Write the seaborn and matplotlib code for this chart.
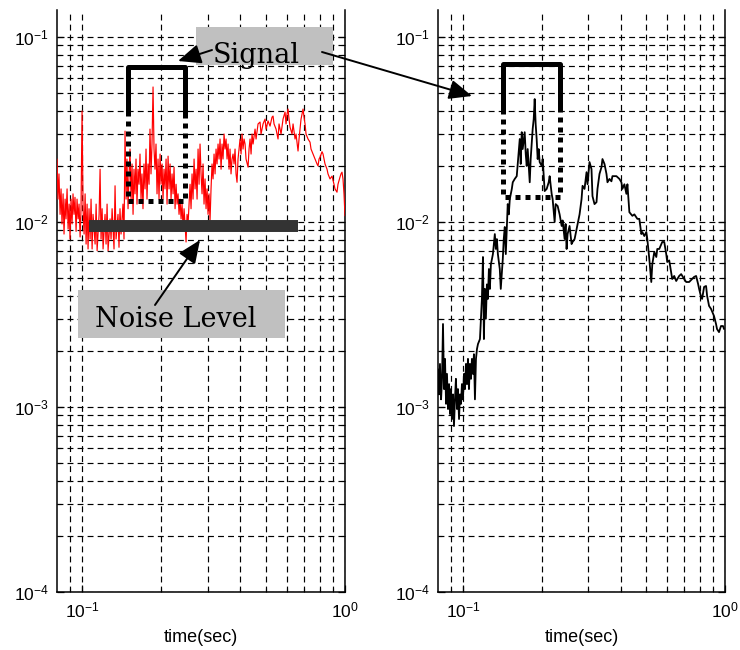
import matplotlib
matplotlib.use("Agg")
import matplotlib.pyplot as plt
import matplotlib.patches as mpatches
import seaborn as sns

# ---- recorded spectra (time in seconds, amplitude) ----
noisy_time = [
    0.0803, 0.0810, 0.0817, 0.0825, 0.0832, 0.0839, 0.0847, 0.0854, 0.0862, 0.0869,
    0.0877, 0.0885, 0.0893, 0.0900, 0.0908, 0.0916, 0.0924, 0.0932, 0.0940, 0.0949,
    0.0957, 0.0966, 0.0974, 0.0983, 0.0991, 0.1000, 0.1009, 0.1018, 0.1027, 0.1036,
    0.1045, 0.1054, 0.1063, 0.1073, 0.1082, 0.1092, 0.1101, 0.1121, 0.1131, 0.1141,
    0.1161, 0.1171, 0.1181, 0.1192, 0.1202, 0.1223, 0.1234, 0.1245, 0.1256, 0.1278,
    0.1289, 0.1301, 0.1323, 0.1335, 0.1347, 0.1370, 0.1382, 0.1394, 0.1407, 0.1431,
    0.1444, 0.1457, 0.1470, 0.1482, 0.1496, 0.1509, 0.1522, 0.1536, 0.1549, 0.1563,
    0.1576, 0.1590, 0.1604, 0.1618, 0.1632, 0.1647, 0.1661, 0.1676, 0.1690, 0.1705,
    0.1720, 0.1736, 0.1751, 0.1766, 0.1782, 0.1798, 0.1813, 0.1829, 0.1845, 0.1862,
    0.1878, 0.1894, 0.1911, 0.1928, 0.1945, 0.1962, 0.1980, 0.1997, 0.2015, 0.2032,
    0.2050, 0.2068, 0.2087, 0.2105, 0.2124, 0.2142, 0.2161, 0.2180, 0.2199, 0.2219,
    0.2238, 0.2258, 0.2278, 0.2298, 0.2318, 0.2338, 0.2359, 0.2380, 0.2401, 0.2422,
    0.2443, 0.2464, 0.2486, 0.2508, 0.2530, 0.2552, 0.2575, 0.2597, 0.2620, 0.2643,
    0.2667, 0.2690, 0.2714, 0.2738, 0.2762, 0.2786, 0.2810, 0.2835, 0.2860, 0.2885,
    0.2910, 0.2936, 0.2962, 0.2988, 0.3014, 0.3040, 0.3067, 0.3094, 0.3121, 0.3149,
    0.3177, 0.3205, 0.3233, 0.3261, 0.3290, 0.3319, 0.3348, 0.3378, 0.3407, 0.3437,
    0.3468, 0.3498, 0.3529, 0.3560, 0.3591, 0.3623, 0.3654, 0.3686, 0.3719, 0.3752,
    0.3785, 0.3818, 0.3851, 0.3885, 0.3919, 0.3954, 0.3989, 0.4024, 0.4059, 0.4095,
    0.4131, 0.4168, 0.4204, 0.4279, 0.4316, 0.4354, 0.4393, 0.4431, 0.4470, 0.4549,
    0.4589, 0.4670, 0.4752, 0.4794, 0.4879, 0.4965, 0.5009, 0.5097, 0.5187, 0.5278,
    0.5325, 0.5372, 0.5467, 0.5563, 0.5612, 0.5712, 0.5812, 0.5915, 0.5967, 0.6019,
    0.6072, 0.6126, 0.6180, 0.6289, 0.6345, 0.6457, 0.6513, 0.6628, 0.6686, 0.6745,
    0.6804, 0.6864, 0.6925, 0.6986, 0.7047, 0.7109, 0.7235, 0.7363, 0.7427, 0.7558,
    0.7692, 0.7827, 0.7896, 0.7966, 0.8036, 0.8178, 0.8250, 0.8395, 0.8543, 0.8618,
    0.8770, 0.8925, 0.9082, 0.9162, 0.9323, 0.9405, 0.9571, 0.9655, 0.9740, 0.9826,
    0.9913, 1.0000,
]
noisy_amp = [
    0.0219, 0.0133, 0.0182, 0.0110, 0.0151, 0.00976, 0.0142, 0.00861, 0.0133, 0.0104,
    0.0151, 0.00917, 0.0125, 0.00809, 0.0133, 0.00976, 0.0142, 0.0110, 0.0136, 0.0089,
    0.0133, 0.0104, 0.0125, 0.0083, 0.0118, 0.0398, 0.0118, 0.00861, 0.0142, 0.0076,
    0.0125, 0.00715, 0.0118, 0.00809, 0.0133, 0.00715, 0.0110, 0.0076, 0.0125, 0.0070,
    0.0110, 0.0193, 0.00809, 0.0118, 0.00715, 0.0110, 0.0076, 0.0125, 0.0070, 0.0104,
    0.00809, 0.0118, 0.00715, 0.0157, 0.00809, 0.0110, 0.0073, 0.0118, 0.00861, 0.0125,
    0.00809, 0.0310, 0.0133, 0.0219, 0.0118, 0.0182, 0.0248, 0.0133, 0.0206, 0.0110,
    0.0193, 0.0142, 0.0219, 0.0125, 0.0193, 0.0160, 0.0233, 0.0133, 0.0182, 0.0118,
    0.0206, 0.0151, 0.0248, 0.0133, 0.0206, 0.0160, 0.0318, 0.0182, 0.0264, 0.0537,
    0.0248, 0.0193, 0.0264, 0.0142, 0.0219, 0.0133, 0.0233, 0.0160, 0.0206, 0.0133,
    0.0193, 0.0151, 0.0219, 0.0125, 0.0227, 0.0151, 0.0206, 0.0133, 0.0182, 0.0142,
    0.0198, 0.0118, 0.0160, 0.0125, 0.0142, 0.0110, 0.0133, 0.0104, 0.0125, 0.00917,
    0.0118, 0.00976, 0.0078, 0.0110, 0.00976, 0.0125, 0.0160, 0.0118, 0.0182, 0.0133,
    0.0219, 0.0151, 0.0193, 0.0133, 0.0248, 0.0160, 0.0264, 0.0182, 0.0142, 0.0206,
    0.0125, 0.0171, 0.0118, 0.0151, 0.0110, 0.0142, 0.0102, 0.0151, 0.0206, 0.0171,
    0.0233, 0.0182, 0.0248, 0.0206, 0.0264, 0.0219, 0.0281, 0.0193, 0.0264, 0.0219,
    0.0299, 0.0248, 0.0281, 0.0219, 0.0264, 0.0193, 0.0248, 0.0182, 0.0219, 0.0233,
    0.0206, 0.0248, 0.0182, 0.0164, 0.0219, 0.0248, 0.0281, 0.0233, 0.0299, 0.0248,
    0.0281, 0.0264, 0.0219, 0.0198, 0.0248, 0.0281, 0.0233, 0.0299, 0.0264, 0.0318,
    0.0281, 0.0339, 0.0347, 0.0299, 0.0339, 0.0360, 0.0318, 0.0352, 0.0330, 0.0369,
    0.0374, 0.0339, 0.0318, 0.0281, 0.0339, 0.0299, 0.0360, 0.0393, 0.0339, 0.0384,
    0.0408, 0.0360, 0.0326, 0.0299, 0.0339, 0.0281, 0.0299, 0.0242, 0.0281, 0.0318,
    0.0360, 0.0384, 0.0408, 0.0369, 0.0339, 0.0299, 0.0281, 0.0270, 0.0248, 0.0233,
    0.0219, 0.0206, 0.0201, 0.0219, 0.0224, 0.0240, 0.0233, 0.0206, 0.0193, 0.0182,
    0.0171, 0.0177, 0.0160, 0.0151, 0.0145, 0.0160, 0.0175, 0.0182, 0.0186, 0.0171,
    0.0142, 0.0108,
]

clean_time = [
    0.0803, 0.0810, 0.0817, 0.0825, 0.0832, 0.0839, 0.0847, 0.0854, 0.0862, 0.0869,
    0.0877, 0.0885, 0.0893, 0.0900, 0.0908, 0.0916, 0.0924, 0.0932, 0.0940, 0.0949,
    0.0957, 0.0966, 0.0974, 0.0983, 0.0991, 0.1000, 0.1009, 0.1018, 0.1027, 0.1036,
    0.1045, 0.1054, 0.1063, 0.1073, 0.1082, 0.1092, 0.1101, 0.1111, 0.1121, 0.1131,
    0.1141, 0.1161, 0.1181, 0.1192, 0.1202, 0.1212, 0.1223, 0.1234, 0.1245, 0.1256,
    0.1267, 0.1278, 0.1301, 0.1323, 0.1335, 0.1347, 0.1359, 0.1382, 0.1394, 0.1419,
    0.1431, 0.1444, 0.1457, 0.1470, 0.1482, 0.1496, 0.1509, 0.1536, 0.1549, 0.1576,
    0.1604, 0.1618, 0.1647, 0.1661, 0.1676, 0.1690, 0.1720, 0.1736, 0.1751, 0.1766,
    0.1798, 0.1813, 0.1845, 0.1862, 0.1878, 0.1894, 0.1911, 0.1928, 0.1945, 0.1962,
    0.1997, 0.2015, 0.2050, 0.2087, 0.2124, 0.2142, 0.2180, 0.2199, 0.2238, 0.2258,
    0.2298, 0.2338, 0.2380, 0.2401, 0.2443, 0.2464, 0.2486, 0.2508, 0.2552, 0.2597,
    0.2620, 0.2667, 0.2714, 0.2738, 0.2786, 0.2835, 0.2860, 0.2910, 0.2962, 0.2988,
    0.3040, 0.3094, 0.3121, 0.3177, 0.3233, 0.3261, 0.3319, 0.3378, 0.3407, 0.3468,
    0.3529, 0.3560, 0.3623, 0.3686, 0.3719, 0.3851, 0.3954, 0.4024, 0.4059, 0.4131,
    0.4204, 0.4242, 0.4316, 0.4431, 0.4509, 0.4630, 0.4711, 0.4794, 0.4836, 0.4922,
    0.5009, 0.5053, 0.5142, 0.5232, 0.5278, 0.5372, 0.5467, 0.5515, 0.5612, 0.5762,
    0.5863, 0.5967, 0.6019, 0.6126, 0.6289, 0.6400, 0.6513, 0.6686, 0.6804, 0.6986,
    0.7109, 0.7298, 0.7493, 0.7624, 0.7759, 0.7896, 0.7966, 0.8107, 0.8178, 0.8322,
    0.8468, 0.8543, 0.8693, 0.8847, 0.9082, 0.9242, 0.9323, 0.9488, 0.9655, 0.9826,
    0.9913,
]
clean_amp = [
    0.00160, 0.00117, 0.00171, 0.00110, 0.00142, 0.00281, 0.00125, 0.00182, 0.00104, 0.00151,
    0.000975, 0.00133, 0.000916, 0.00125, 0.000861, 0.00117, 0.000789, 0.00110, 0.00142, 0.000975,
    0.00125, 0.000861, 0.00117, 0.00104, 0.00133, 0.00110, 0.00151, 0.00125, 0.00171, 0.00133,
    0.00182, 0.00125, 0.00171, 0.00142, 0.00182, 0.00151, 0.00193, 0.00110, 0.00182, 0.00206,
    0.00219, 0.00233, 0.00384, 0.00647, 0.00233, 0.00435, 0.00300, 0.00460, 0.00384, 0.00557,
    0.00435, 0.00590, 0.00671, 0.00861, 0.00715, 0.00809, 0.00671, 0.00557, 0.00435, 0.00631,
    0.00809, 0.00940, 0.00671, 0.00917, 0.0125, 0.0110, 0.0133, 0.0151, 0.0164, 0.0171,
    0.0177, 0.0206, 0.0281, 0.0206, 0.0306, 0.0248, 0.0306, 0.0233, 0.0201, 0.0248,
    0.0164, 0.0219, 0.0318, 0.0360, 0.0462, 0.0339, 0.0281, 0.0219, 0.0248, 0.0211,
    0.0201, 0.0219, 0.0147, 0.0151, 0.0164, 0.0177, 0.0142, 0.0133, 0.0100, 0.0125,
    0.0122, 0.0110, 0.00952, 0.0102, 0.00809, 0.00976, 0.00715, 0.00861, 0.00952, 0.00760,
    0.00780, 0.00809, 0.00917, 0.00976, 0.0110, 0.0133, 0.0157, 0.0151, 0.0186, 0.0160,
    0.0211, 0.0193, 0.0138, 0.0125, 0.0128, 0.0151, 0.0182, 0.0198, 0.0219, 0.0206,
    0.0182, 0.0164, 0.0171, 0.0166, 0.0177, 0.0177, 0.0171, 0.0164, 0.0151, 0.0160,
    0.0142, 0.0160, 0.0113, 0.0108, 0.0110, 0.0104, 0.0104, 0.00861, 0.00883, 0.00840,
    0.00883, 0.00809, 0.00631, 0.00474, 0.00590, 0.00689, 0.00647, 0.00715, 0.00715, 0.00780,
    0.00780, 0.00671, 0.00608, 0.00620, 0.00492, 0.00511, 0.00480, 0.00511, 0.00523, 0.00492,
    0.00474, 0.00474, 0.00492, 0.00505, 0.00511, 0.00462, 0.00435, 0.00393, 0.00384, 0.00446,
    0.00451, 0.00400, 0.00352, 0.00339, 0.00310, 0.00281, 0.00264, 0.00254, 0.00274, 0.00274,
    0.00264,
]

# marked windows and noise floor
noise_level = 0.0095
noise_span = (0.1063, 0.662)
window_left = dict(t0=0.1496, t1=0.2464, top=0.0689, mid=0.0398, bottom=0.0130)
window_right = dict(t0=0.1421, t1=0.2345, top=0.0715, mid=0.0408, bottom=0.01365)

xlim = (0.0803, 1.0)
ylim = (1e-4, 0.14)

sns.set_theme(style="white")
plt.rcParams["font.family"] = ["Liberation Sans", "DejaVu Sans"]
plt.rcParams["mathtext.fontset"] = "custom"
plt.rcParams["mathtext.rm"] = "Liberation Sans"
plt.rcParams["lines.scale_dashes"] = True
for key in ["text.color", "axes.labelcolor", "xtick.color", "ytick.color"]:
    plt.rcParams[key] = "black"

W, H = 740, 650
fig = plt.figure(figsize=(W / 100, H / 100), dpi=100)
fig.patch.set_facecolor("white")


def px_box(x0, y0, x1, y1):
    return [x0 / W, 1 - y1 / H, (x1 - x0) / W, (y1 - y0) / H]


ax_l = fig.add_axes(px_box(57, 10, 345, 592))
ax_r = fig.add_axes(px_box(438, 10, 725, 592))


def style_axes(ax):
    ax.set_xscale("log")
    ax.set_yscale("log")
    ax.set_xlim(*xlim)
    ax.set_ylim(*ylim)
    ax.set_facecolor("white")
    ax.grid(True, which="both", color="black", linestyle=(0, (5, 3.5)), linewidth=0.85)
    ax.set_axisbelow(True)
    for side in ["left", "right", "bottom"]:
        ax.spines[side].set_visible(True)
        ax.spines[side].set_color("black")
        ax.spines[side].set_linewidth(1.1)
    ax.spines["top"].set_visible(False)
    ax.tick_params(which="both", direction="in", left=True, right=True,
                   bottom=True, top=False, color="black", labelcolor="black")
    ax.tick_params(which="major", length=5, width=0.9, labelsize=12.5, pad=6)
    ax.tick_params(which="minor", length=3, width=0.8)
    ax.set_xlabel("time(sec)", fontsize=13, labelpad=6, color="black")
    ax.set_ylabel("")


def draw_window(ax, w):
    solid = dict(color="black", lw=3.6, solid_capstyle="projecting", zorder=5)
    dotted = dict(color="black", lw=3.6, linestyle=(0, (1, 1)),
                  dash_capstyle="butt", zorder=5)
    ax.plot([w["t0"], w["t0"], w["t1"], w["t1"]],
            [w["mid"], w["top"], w["top"], w["mid"]], **solid)
    ax.plot([w["t0"], w["t0"], w["t1"], w["t1"]],
            [w["mid"], w["bottom"], w["bottom"], w["mid"]], **dotted)


sns.lineplot(x=noisy_time, y=noisy_amp, ax=ax_l, color="red", lw=0.85,
             estimator=None, sort=False, zorder=3)
sns.lineplot(x=clean_time, y=clean_amp, ax=ax_r, color="black", lw=1.3,
             estimator=None, sort=False, zorder=3)

for ax in (ax_l, ax_r):
    style_axes(ax)

ax_l.plot(list(noise_span), [noise_level, noise_level], color="#333333",
          lw=8.6, solid_capstyle="butt", zorder=4)
draw_window(ax_l, window_left)
draw_window(ax_r, window_right)


def fig_pt(x, y):
    return (x / W, 1 - y / H)


# label boxes
for (x0, y0, x1, y1) in [(196, 27, 333, 65), (78, 290, 285, 338)]:
    fig.add_artist(mpatches.Rectangle(fig_pt(x0, y1), (x1 - x0) / W, (y1 - y0) / H,
                                      transform=fig.transFigure, facecolor="#c0c0c0",
                                      edgecolor="none", zorder=6))

fig.text(*fig_pt(213, 63), "Signal", fontsize=19.5, family="DejaVu Serif",
         color="black", ha="left", va="baseline", zorder=7)
fig.text(*fig_pt(95, 327), "Noise Level", fontsize=19.5, family="DejaVu Serif",
         color="black", ha="left", va="baseline", zorder=7)

arrow_style = mpatches.ArrowStyle("-|>", head_length=0.7, head_width=0.3)
for tail, tip in [((212, 50), (178, 61)), ((322, 52), (472, 96)), ((155, 305), (200, 240))]:
    fig.add_artist(mpatches.FancyArrowPatch(fig_pt(*tail), fig_pt(*tip),
                                            transform=fig.transFigure,
                                            arrowstyle=arrow_style, mutation_scale=20,
                                            color="black", lw=1.4, shrinkA=0, shrinkB=0,
                                            zorder=8))

fig.savefig("out.png", dpi=100, facecolor="white")
